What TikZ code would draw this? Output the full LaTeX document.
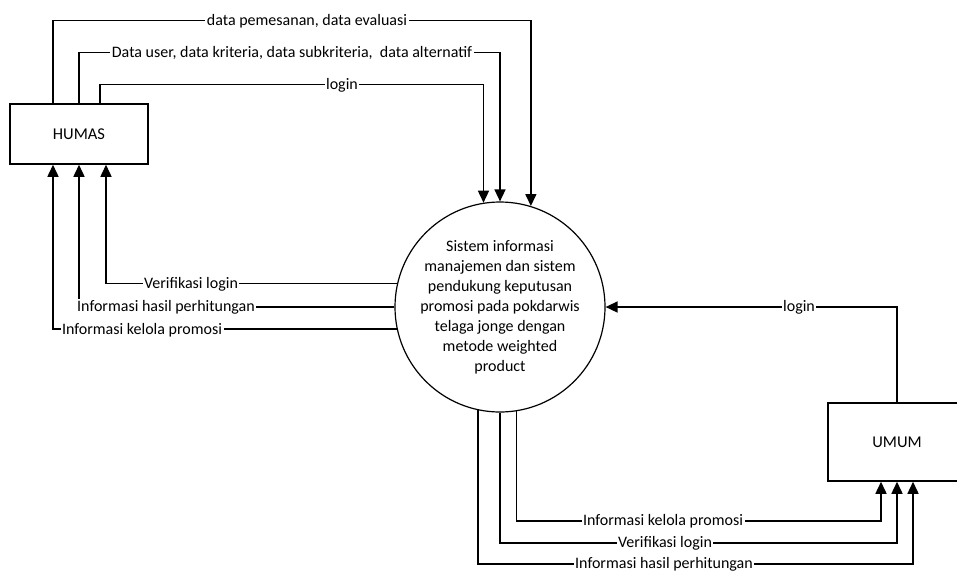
\documentclass[tikz,border=0pt]{standalone}
\usepackage{fontspec}
\setmainfont{Carlito}
\usetikzlibrary{shapes,arrows,arrows.meta,positioning,calc}

\begin{document}
\begin{tikzpicture}[
    x=1pt, y=-1pt,
    entity/.style={rectangle, draw, line width=1.5pt, inner sep=0pt, font=\fontsize{16.5}{20}\selectfont},
    proc/.style={circle, draw, line width=1.2pt, minimum size=210pt, inner sep=0pt, align=center, font=\fontsize{16}{20}\selectfont},
    flow/.style={->, >={Triangle[length=12pt,width=11pt]}, line width=1.5pt},
    lbl/.style={fill=white, inner sep=1.5pt, font=\fontsize{16}{19}\selectfont}
]
\useasboundingbox (0,0) rectangle (957,574);

\node[entity, minimum width=138pt, minimum height=60pt] (humas) at (79,134) {HUMAS};
\node[entity, minimum width=138pt, minimum height=78pt] (umum) at (897,442) {UMUM};
\node[proc] (sys) at (500,307) {Sistem informasi\\manajemen dan sistem\\pendukung keputusan\\promosi pada pokdarwis\\telaga jonge dengan\\metode weighted\\product};

% HUMAS ke sistem
\draw[flow] ([xshift=-26pt]humas.north) -- ++(0,-83) -| (sys.73.4);
\draw[flow] (humas.north) -- ++(0,-51) -| (sys.90);
\draw[flow] ([xshift=21pt]humas.north) -- ++(0,-19) -| (sys.99.87);
\node[lbl] (l1) at (307,21) {data pemesanan, data evaluasi};
\node[lbl] (l2) at (292,53) {Data user, data kriteria, data subkriteria,\ \ data alternatif};
\node[lbl] (l3) at (342,85) {login};

% sistem ke HUMAS
\draw[flow] (sys.167.35) -| ([xshift=27pt]humas.south);
\draw[flow] (sys.west) -| (humas.south);
\draw[flow] (sys.192.65) -| ([xshift=-26pt]humas.south);
\node[lbl] (l4) at (191,284) {Verifikasi login};
\node[lbl] (l5) at (166,307) {Informasi hasil perhitungan};
\node[lbl] (l6) at (142,330) {Informasi kelola promosi};

% UMUM ke sistem
\draw[flow] (umum.north) |- (sys.east);
\node[lbl] (l7) at (799,307) {login};

% sistem ke UMUM
\draw[flow] (sys.-81.24) -- (sys.-81.24 |- 0,521) -| ([xshift=-16pt]umum.south);
\draw[flow] (sys.south) -- (sys.south |- 0,543) -| (umum.south);
\draw[flow] (sys.-102.65) -- (sys.-102.65 |- 0,564) -| ([xshift=16pt]umum.south);
\node[lbl] (l8) at (663,521) {Informasi kelola promosi};
\node[lbl] (l9) at (665,543) {Verifikasi login};
\node[lbl] (l10) at (664,564) {Informasi hasil perhitungan};

\end{tikzpicture}
\end{document}
